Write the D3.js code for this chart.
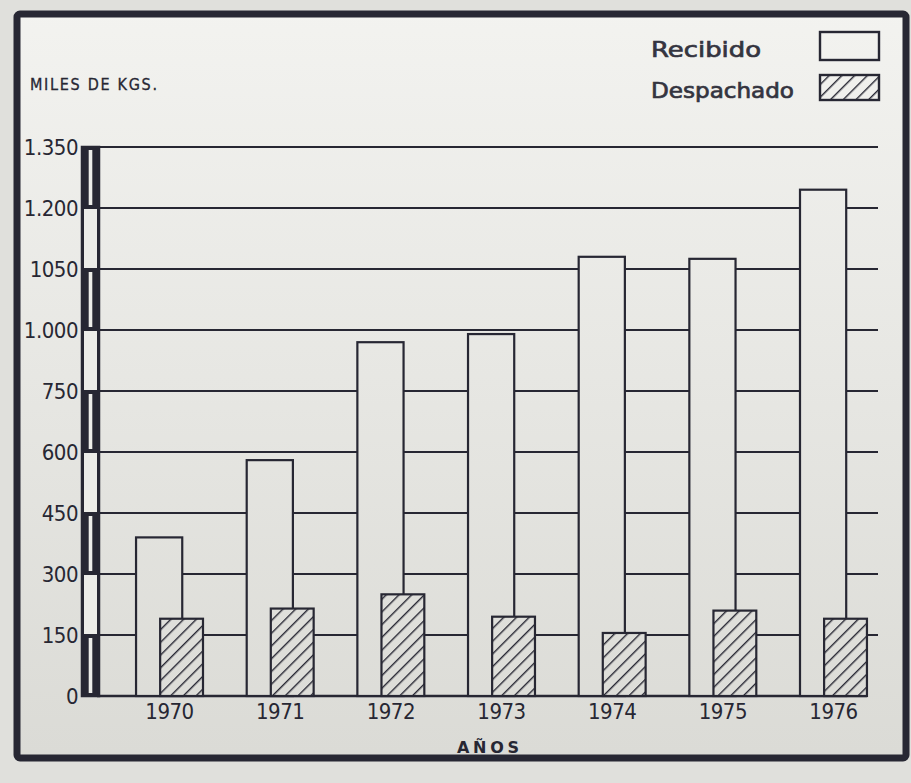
<!DOCTYPE html>
<html><head><meta charset="utf-8">
<script src="https://cdn.jsdelivr.net/npm/d3@7"></script>
<style>html,body{margin:0;padding:0;background:#e2e2de;} svg{display:block}</style>
</head><body><svg id="c" width="911" height="783"></svg>
<script>
const years = ["1970","1971","1972","1973","1974","1975","1976"];
const recibido = [390, 580, 870, 890, 1080, 1075, 1245];
const despachado = [190, 215, 250, 195, 155, 210, 190];
const tickValues = [0,150,300,450,600,750,900,1050,1200,1350];
const tickLabels = ["0","150","300","450","600","750","1.000","1050","1.200","1.350"];
const seriesNames = ["Recibido","Despachado"];
const yTitle = "MILES DE KGS.";
const xTitle = "AÑOS";

const W=911,H=783;
const ink="#272733";
const paperSolid="#ecece8";
const condensed='"Liberation Sans Narrow","DejaVu Sans Condensed","DejaVu Sans",sans-serif';
const svg=d3.select("#c");
const defs=svg.append("defs");
const grad=defs.append("linearGradient").attr("id","paper").attr("gradientUnits","userSpaceOnUse")
  .attr("x1",0).attr("y1",0).attr("x2",0).attr("y2",H);
grad.append("stop").attr("offset",0).attr("stop-color","#f3f3f0");
grad.append("stop").attr("offset",1).attr("stop-color","#dadad5");
const pat=defs.append("pattern").attr("id","hatch").attr("patternUnits","userSpaceOnUse")
  .attr("width",9).attr("height",9).attr("patternTransform","rotate(45)");
pat.append("line").attr("x1",0).attr("y1",-1).attr("x2",0).attr("y2",10)
  .attr("stroke",ink).attr("stroke-width",2.8);

// outer background + frame
svg.append("rect").attr("width",W).attr("height",H).attr("fill","#e0e0dc");
svg.append("rect").attr("x",17).attr("y",14).attr("width",889).attr("height",744).attr("rx",3)
  .attr("fill","url(#paper)").attr("stroke",ink).attr("stroke-width",7);

const y=d3.scaleLinear().domain([0,1350]).range([696,147]);
const x=d3.scaleBand().domain(years).range([120,883]).paddingInner(0.395).paddingOuter(0.145);
const bw=x.bandwidth();

// gridlines
svg.append("g").selectAll("line").data(tickValues.filter(t=>t>0)).join("line")
  .attr("x1",99).attr("x2",878).attr("y1",d=>y(d)).attr("y2",d=>y(d))
  .attr("stroke",ink).attr("stroke-width",2);
// baseline
svg.append("line").attr("x1",97).attr("x2",x(years[years.length-1])+bw)
  .attr("y1",y(0)).attr("y2",y(0)).attr("stroke",ink).attr("stroke-width",2.4);

// bars
const gb=svg.append("g");
gb.selectAll("rect.rec").data(years).join("rect").attr("class","rec")
  .attr("x",d=>x(d)).attr("width",bw*0.69)
  .attr("y",(d,i)=>y(recibido[i])).attr("height",(d,i)=>y(0)-y(recibido[i]))
  .attr("fill","url(#paper)").attr("stroke",ink).attr("stroke-width",2.2);
gb.selectAll("rect.despbg").data(years).join("rect").attr("class","despbg")
  .attr("x",d=>x(d)+bw*0.36).attr("width",bw*0.64)
  .attr("y",(d,i)=>y(despachado[i])).attr("height",(d,i)=>y(0)-y(despachado[i]))
  .attr("fill","url(#paper)");
gb.selectAll("rect.desp").data(years).join("rect").attr("class","desp")
  .attr("x",d=>x(d)+bw*0.36).attr("width",bw*0.64)
  .attr("y",(d,i)=>y(despachado[i])).attr("height",(d,i)=>y(0)-y(despachado[i]))
  .attr("fill","url(#hatch)").attr("stroke",ink).attr("stroke-width",2.2);

// axis scale bar
const ga=svg.append("g");
const segs=d3.pairs(tickValues);
const ax0=82, aw=17;
segs.forEach(([a,b],i)=>{
  if(i%2===0){
    ga.append("rect").attr("x",ax0).attr("width",aw).attr("y",y(b)).attr("height",y(a)-y(b)).attr("fill",ink);
    ga.append("rect").attr("x",ax0+aw/2-1.8).attr("width",3.6).attr("y",y(b)+3).attr("height",y(a)-y(b)-6).attr("fill",paperSolid);
  } else {
    ga.append("rect").attr("x",ax0+1).attr("width",aw-2).attr("y",y(b)).attr("height",y(a)-y(b))
      .attr("fill",paperSolid).attr("stroke",ink).attr("stroke-width",2);
  }
});
ga.append("rect").attr("x",ax0).attr("width",aw).attr("y",y(1350)).attr("height",y(0)-y(1350))
  .attr("fill","none").attr("stroke",ink).attr("stroke-width",2.5);

// y labels
const yAxis=svg.append("g").attr("transform",`translate(${ax0-1},0)`)
  .call(d3.axisLeft(y).tickValues(tickValues).tickFormat((d,i)=>tickLabels[i]).tickSize(0).tickPadding(3));
yAxis.select(".domain").remove();
yAxis.selectAll("text").attr("font-family",condensed).attr("font-size",22).attr("fill",ink).attr("letter-spacing","-0.5px");

// x labels
const xAxis=svg.append("g").attr("transform",`translate(0,${y(0)})`)
  .call(d3.axisBottom(x).tickSize(0).tickPadding(7));
xAxis.select(".domain").remove();
xAxis.selectAll("text").attr("font-family",condensed).attr("font-size",22).attr("fill",ink).attr("letter-spacing","-0.5px");

// titles
svg.append("text").attr("x",30).attr("y",90).attr("font-family",condensed).attr("font-size",16)
  .attr("fill",ink).attr("stroke",ink).attr("stroke-width",0.3)
  .attr("textLength",127).attr("lengthAdjust","spacing").text(yTitle);
svg.append("text").attr("x",488).attr("y",753).attr("text-anchor","middle").attr("font-family",'"DejaVu Sans",sans-serif')
  .attr("font-weight","bold").attr("font-size",16).attr("fill",ink)
  .attr("textLength",62).attr("lengthAdjust","spacing").text(xTitle);

// legend
const lg=svg.append("g");
lg.append("text").attr("x",651).attr("y",57).attr("font-family",'"DejaVu Sans",sans-serif').attr("font-size",21)
  .attr("fill","#34343f").attr("stroke","#34343f").attr("stroke-width",0.7)
  .attr("textLength",110).attr("lengthAdjust","spacingAndGlyphs").text(seriesNames[0]);
lg.append("text").attr("x",651).attr("y",98).attr("font-family",'"DejaVu Sans",sans-serif').attr("font-size",21)
  .attr("fill","#34343f").attr("stroke","#34343f").attr("stroke-width",0.7)
  .attr("textLength",143).attr("lengthAdjust","spacingAndGlyphs").text(seriesNames[1]);
lg.append("rect").attr("x",820).attr("y",32).attr("width",59).attr("height",28)
  .attr("fill","url(#paper)").attr("stroke",ink).attr("stroke-width",2.4);
lg.append("rect").attr("x",820).attr("y",75).attr("width",59).attr("height",25)
  .attr("fill","url(#paper)");
lg.append("rect").attr("x",820).attr("y",75).attr("width",59).attr("height",25)
  .attr("fill","url(#hatch)").attr("stroke",ink).attr("stroke-width",2.4);
</script></body></html>
